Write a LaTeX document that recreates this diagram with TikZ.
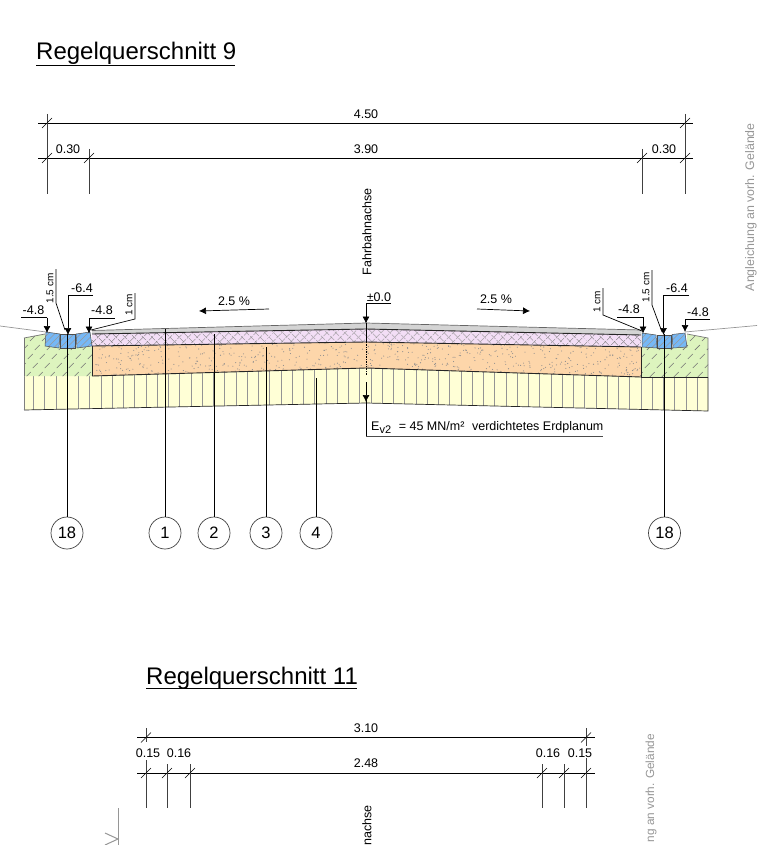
\documentclass[tikz,border=0pt]{standalone}
\usepackage{fontspec}
\setmainfont{Liberation Sans}
\usetikzlibrary{patterns.meta,arrows.meta}
\definecolor{soilgreen}{RGB}{221,244,190}
\definecolor{baseyellow}{RGB}{255,255,214}
\definecolor{gravel}{RGB}{253,214,170}
\definecolor{binder}{RGB}{243,222,246}
\definecolor{asphalt}{RGB}{212,212,212}
\definecolor{curbblue}{RGB}{118,184,246}
\definecolor{hintgray}{RGB}{150,150,150}

\tikzset{
  dimline/.style={draw=black, line width=0.8pt},
  extline/.style={draw=black!75, line width=0.9pt},
  tickline/.style={draw=black, line width=0.6pt},
  dimtext/.style={font=\fontsize{12.5}{13}\selectfont, inner sep=0pt},
  lvltext/.style={font=\fontsize{12.5}{13}\selectfont, inner sep=0pt},
  smalltext/.style={font=\fontsize{10}{11}\selectfont, inner sep=0pt, rotate=90},
  axistext/.style={font=\fontsize{12.5}{13}\selectfont, inner sep=0pt, rotate=90, anchor=east},
  hinttext/.style={font=\fontsize{12.4}{13}\selectfont, inner sep=0pt, rotate=90, anchor=east, text=hintgray},
  titletext/.style={font=\fontsize{24}{26}\selectfont, inner sep=0pt, anchor=base west},
  callout/.style={circle, draw=black!75, line width=0.7pt, minimum size=32pt, inner sep=0pt, font=\fontsize{16.5}{17}\selectfont},
  leader/.style={draw=black, line width=0.7pt},
  lvlarrow/.style={draw=black, line width=0.7pt, -{Latex[length=7pt,width=7pt]}},
  layeredge/.style={draw=black!85, line width=0.7pt},
  terrain/.style={draw=hintgray, line width=0.7pt}
}

\begin{document}
\begin{tikzpicture}[x=1pt, y=-1pt]

\useasboundingbox (0,0) rectangle (768,845);
\clip (0,0) rectangle (768,845);

% titles
\node (titleA) [titletext] at (36,60) {Regelquerschnitt 9};
\node (titleB) [titletext] at (146,684) {Regelquerschnitt 11};
\draw [line width=1pt] (36,65.5) -- (235,65.5);
\draw [line width=1pt] (146,688.5) -- (357,688.5);

% dimensions, upper section
\draw [dimline] (38,123) -- (693,123);
\draw [dimline] (38,158) -- (693,158);
\foreach \x/\ytop in {47/114, 89/149, 642/149, 685/114}
  \draw [extline] (\x,\ytop) -- (\x,194);
\foreach \x/\y in {47/123, 685/123, 47/158, 89/158, 642/158, 685/158}
  \draw [tickline] (\x-5,\y+5) -- (\x+5,\y-5);
\node (dimA) [dimtext] at (366,114) {4.50};
\node (dimB) [dimtext] at (68,149) {0.30};
\node (dimC) [dimtext] at (366,149) {3.90};
\node (dimD) [dimtext] at (664,149) {0.30};
\node (axisA) [axistext] at (367,188) {Fahrbahnachse};
\node (hintA) [hinttext] at (751,123) {Angleichung an vorh. Gelände};

% layers
\fill [baseyellow] (24,376) -- (92,376) -- (366,368) -- (641,377) -- (708,377) -- (708,411) -- (366,403) -- (24,410) -- cycle;
\begin{scope}
  \clip (24,376) -- (92,376) -- (366,368) -- (641,377) -- (708,377) -- (708,411) -- (366,403) -- (24,410) -- cycle;
  \foreach \i in {0,...,60}
    \draw [draw=black!42, line width=0.7pt] (33.5+11.25*\i,360) -- (33.5+11.25*\i,415);
\end{scope}
\draw [layeredge] (24,410) -- (366,403) -- (708,411) -- (708,377);
\draw [layeredge, black!50] (24,376) -- (24,410);

\fill [soilgreen] (24,338) -- (45,334) -- (45,346) -- (92,347) -- (92,376) -- (24,376) -- cycle;
\fill [soilgreen] (687,334) -- (708,338) -- (708,377) -- (641,377) -- (641,347) -- (687,347) -- cycle;
\begin{scope}
  \clip (24,338) -- (45,334) -- (45,346) -- (92,347) -- (92,376) -- (24,376) -- cycle
        (687,334) -- (708,338) -- (708,377) -- (641,377) -- (641,347) -- (687,347) -- cycle;
  \foreach \x in {10,22,...,730}
    \foreach \y in {338,347,...,376}
      \draw [draw=black!55, line width=0.55pt] (\x+0.55*\y-190,\y+3) -- ++(5,-5);
\end{scope}
\draw [layeredge, black!55] (24,338) -- (45,334);
\draw [layeredge, black!55] (24,338) -- (24,376);
\draw [layeredge, black!55] (687,334) -- (708,338) -- (708,377);

\fill [gravel] (92,346) -- (366,342) -- (641,347) -- (641,377) -- (366,368) -- (92,376) -- cycle;
\begin{scope}
  \clip (92,346) -- (366,342) -- (641,347) -- (641,377) -- (366,368) -- (92,376) -- cycle;
  \pgfmathsetseed{91}
  \foreach \i in {1,...,800}
    \fill [black!45] (92+549*rnd,340+38*rnd) circle (0.55pt);
\end{scope}
\fill [binder] (92,334) -- (366,329) -- (641,335) -- (641,347) -- (366,342) -- (92,346) -- cycle;
\fill [pattern={Lines[angle=45,distance=6.5pt,line width=0.5pt]}, pattern color=black!55] (92,334) -- (366,329) -- (641,335) -- (641,347) -- (366,342) -- (92,346) -- cycle;
\fill [pattern={Lines[angle=-45,distance=6.5pt,line width=0.5pt]}, pattern color=black!55] (92,334) -- (366,329) -- (641,335) -- (641,347) -- (366,342) -- (92,346) -- cycle;
\fill [asphalt] (92,330.5) -- (366,323) -- (641,330) -- (641,335) -- (366,329) -- (92,334) -- cycle;

\draw [layeredge, black!60] (92,330.5) -- (366,323) -- (641,330);
\draw [layeredge, line width=0.9pt] (92,334) -- (366,329) -- (641,335);
\draw [layeredge, line width=0.9pt] (92,346) -- (366,342) -- (641,347);
\draw [layeredge, line width=0.9pt] (92,376) -- (366,368) -- (641,377);
\draw [layeredge] (92,346) -- (92,376);
\draw [layeredge] (641,347) -- (641,377);
\draw [layeredge] (641,377) -- (708,377);

% curbs
\foreach \pts in {
  {(46,332) -- (60,334) -- (59,348) -- (45,346) -- cycle},
  {(60.5,334) -- (75,334) -- (75,348) -- (60.5,348) -- cycle},
  {(76,334) -- (90,332) -- (92,346) -- (77,348) -- cycle},
  {(642,333) -- (656,335) -- (657,348) -- (642,347) -- cycle},
  {(657.5,335) -- (671,335) -- (671,348) -- (657.5,348) -- cycle},
  {(672,334.5) -- (685,333) -- (687,347) -- (673,348) -- cycle}} {
  \begin{scope}
    \path [fill=curbblue] \pts;
    \clip \pts;
    \foreach \x in {30,36.5,...,700}
      \draw [draw=black!40, line width=0.5pt] (\x,352) -- ++(24,-24);
  \end{scope}
  \draw [draw=black!70, line width=0.5pt] \pts;
}

% terrain
\coordinate (terrL) at (0,326);
\coordinate (terrLe) at (46,332);
\coordinate (terrR) at (757,325.5);
\coordinate (terrRe) at (685,332);
\draw [terrain] (terrL) -- (terrLe);
\draw [terrain] (terrRe) -- (terrR);

% levels left
\node (lvlA) [lvltext] at (33.5,310) {-4.8};
\draw [leader] (21,317.5) -- (47,317.5);
\draw [lvlarrow] (47,317.5) -- (47,333);
\node (lvlB) [lvltext] at (82,288) {-6.4};
\draw [leader] (93,295) -- (68,295);
\draw [lvlarrow] (68,295) -- (68,335);
\node (lvlC) [lvltext] at (102,310) {-4.8};
\draw [leader] (89,318) -- (115,318);
\draw [lvlarrow] (89,318) -- (89,333.5);
\node (cmA) [smalltext] at (50,288.5) {1.5 cm};
\draw [leader] (56,269) -- (56,303) -- (65,330);
\node (cmB) [smalltext] at (129,305) {1 cm};
\draw [leader] (135,293) -- (135,319) -- (91,330);

% levels right
\node (lvlD) [lvltext] at (629,309) {-4.8};
\draw [leader] (617,317) -- (643,317);
\draw [lvlarrow] (643,317) -- (643,333.5);
\node (lvlE) [lvltext] at (677,288.5) {-6.4};
\draw [leader] (689,295) -- (663.5,295);
\draw [lvlarrow] (663.5,295) -- (663.5,335);
\node (lvlF) [lvltext] at (698,312) {-4.8};
\draw [leader] (710,319) -- (685,319);
\draw [lvlarrow] (685,319) -- (685,332);
\node (cmC) [smalltext] at (646,287.5) {1.5 cm};
\draw [leader] (652,270) -- (652,305) -- (662,332);
\node (cmD) [smalltext] at (597,302) {1 cm};
\draw [leader] (603,288) -- (603,315) -- (642,331);

% axis
\node (lvlG) [lvltext] at (379,297) {±0.0};
\draw [leader] (391,303) -- (366,303);
\draw [lvlarrow] (366,303) -- (366,323.5);
\draw [leader] (366,323) -- (366,342);
\draw [leader, densely dotted] (366,342) -- (366,375);
\draw [lvlarrow] (366,382) -- (366,402);
\draw [leader] (366,400) -- (366,436);
\draw [draw=black!70, line width=1pt] (366,436) -- (603,436);
\node (planum) [dimtext, anchor=base west] at (371,430) {E\raisebox{-3pt}{\fontsize{11}{11}\selectfont v2}\,\, = 45 MN/m²\,\, verdichtetes Erdplanum};

% slopes
\node (slopeA) [lvltext] at (234,301) {2.5 \%};
\draw [lvlarrow] (269,309) -- (199,311);
\node (slopeB) [lvltext] at (496,299) {2.5 \%};
\draw [lvlarrow] (477,309) -- (530,311);

% callouts
\node (nA) [callout] at (67,533) {18};
\node (nB) [callout] at (165,533) {1};
\node (nC) [callout] at (214,533) {2};
\node (nD) [callout] at (266,533) {3};
\node (nE) [callout] at (316,533) {4};
\node (nF) [callout] at (664.5,533) {18};
\coordinate (fA) at (67,334);
\coordinate (fB) at (165,329);
\coordinate (fC) at (214,334);
\coordinate (fD) at (266,347);
\coordinate (fE) at (316,378);
\coordinate (fF) at (664.5,334);
\foreach \f/\n in {fA/nA, fB/nB, fC/nC, fD/nD, fE/nE, fF/nF}
  \draw [leader] (\f) -- (\f |- \n.north);

% dimensions, lower section
\draw [dimline] (137,737.5) -- (595,737.5);
\draw [dimline] (137,773) -- (595,773);
\draw [extline] (146,728) -- (146,742);
\draw [extline] (146,760) -- (146,808);
\draw [extline] (586,728) -- (586,746);
\draw [extline] (586,758) -- (586,808);
\foreach \x in {167,190,542,564}
  \draw [extline] (\x,764) -- (\x,808);
\foreach \x/\y in {146/737.5, 586/737.5, 146/773, 167/773, 190/773, 542/773, 564/773, 586/773}
  \draw [tickline] (\x-5,\y+5) -- (\x+5,\y-5);
\node (dimE) [dimtext] at (366,728) {3.10};
\node (dimF) [dimtext] at (148,753) {0.15};
\node (dimG) [dimtext] at (179,753) {0.16};
\node (dimH) [dimtext] at (366,763) {2.48};
\node (dimI) [dimtext] at (548,753) {0.16};
\node (dimJ) [dimtext] at (580,753) {0.15};
\node (axisB) [axistext] at (367,805) {nachse};
\node (hintB) [hinttext, font=\fontsize{11.8}{13}\selectfont] at (651,734) {ng an vorh. Gelände};

% edge of next section
\draw [terrain, line width=1pt] (118,808) -- (118,845);
\draw [terrain, line width=1pt] (105,833) -- (118,839) -- (105,845);

\end{tikzpicture}
\end{document}
